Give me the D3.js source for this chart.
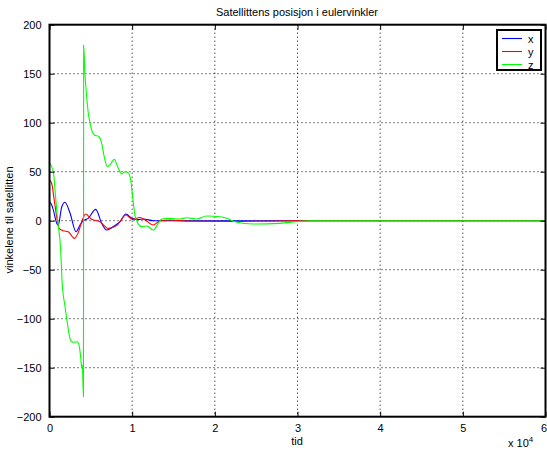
<!DOCTYPE html>
<html>
<head>
<meta charset="utf-8">
<script src="https://cdn.jsdelivr.net/npm/d3@7"></script>
<style>
  body { margin: 0; background: #fff; }
  svg { font-family: "Liberation Sans", Arial, sans-serif; }
  .grid line { stroke: #000; stroke-dasharray: 1,3; stroke-width: 1; }
</style>
</head>
<body>
<div id="chart"></div>
<script>
// time values in units of 1e4 s
var xTicks = [0, 1, 2, 3, 4, 5, 6];
var yTicks = [-200, -150, -100, -50, 0, 50, 100, 150, 200];

var tX = [0, 0.027, 0.046, 0.087, 0.106, 0.148, 0.1875, 0.248, 0.321, 0.369, 0.409, 0.469, 0.559, 0.631, 0.692, 0.772, 0.853, 0.925, 0.994, 1.074, 1.135, 1.256, 1.5, 2.5, 4, 6];
var valX = [19.4, 16, 11, -2.5, -4.4, 14, 18.8, 7.8, -11.2, -4.4, 0, 2.4, 11.6, -2.7, -9.5, -6, -1, 6.8, 2.4, 1.2, 1.7, 0, 0, 0, 0, 0];

var tY = [0, 0.027, 0.054, 0.087, 0.115, 0.167, 0.227, 0.300, 0.348, 0.390, 0.438, 0.510, 0.611, 0.711, 0.813, 0.925, 1.002, 1.095, 1.155, 1.256, 1.337, 1.458, 1.7, 2.2, 2.8, 3.2, 6];
var valY = [41.5, 38, 23, 4, -7.8, -10.2, -11.2, -18, -12.2, -1, 6.8, 1.4, -1, -7.8, -5, 5.8, 1.4, 3.2, 0.7, -4.4, 0, 0.7, -0.5, -0.8, -0.3, 0, 0];

var tZ = [0, 0.046, 0.07, 0.099, 0.135, 0.146, 0.151, 0.1875, 0.208, 0.248, 0.268, 0.296, 0.336, 0.357, 0.377, 0.390, 0.397, 0.411,
          0.413, 0.429, 0.450, 0.469, 0.490, 0.510, 0.542, 0.599, 0.631, 0.665, 0.700, 0.740, 0.784, 0.830, 0.873, 0.913, 0.953, 0.985, 1.014, 1.035, 1.055, 1.08, 1.115, 1.176, 1.256, 1.316, 1.357, 1.458, 1.579, 1.660, 1.781, 1.902, 2.062, 2.143, 2.244, 2.465, 2.787, 2.990, 3.15, 6];
var valZ = [59, 50, 28, 0, -30, -50, -61, -87.5, -100, -120, -123.5, -124, -123.5, -127, -139, -150.6, -147, -179.6,
            179, 150, 126.5, 110, 100, 92.5, 87.5, 85.7, 79, 64, 55, 58, 62.6, 54, 47.6, 50, 49, 40, 18, 5, 0, -4, -6, -5.4, -9.5, -2.7, 1.7, 2.4, 1.7, 3, 1.7, 4.8, 4, 2.4, -1, -3.4, -2.7, -1, 0, 0];

var series = [
  { name: "x", color: "#0000ff", t: tX, v: valX },
  { name: "y", color: "#ff0000", t: tY, v: valY },
  { name: "z", color: "#00ff00", t: tZ, v: valZ }
];

var W = 547, H = 451;
var margin = { left: 49.5, right: 1.5, top: 24.7, bottom: 34.3 };
var width = W - margin.left - margin.right;
var height = H - margin.top - margin.bottom;

var svg = d3.select("#chart").append("svg")
  .attr("width", W).attr("height", H);
var g = svg.append("g")
  .attr("transform", "translate(" + margin.left + "," + margin.top + ")");

var x = d3.scaleLinear().domain([0, 6]).range([0, width]);
var y = d3.scaleLinear().domain([-200, 200]).range([height, 0]);

// grid
var grid = g.append("g").attr("class", "grid");
grid.selectAll(".gx").data(xTicks.slice(1, -1)).enter().append("line")
  .attr("x1", function(d) { return x(d); }).attr("x2", function(d) { return x(d); })
  .attr("y1", 0).attr("y2", height);
grid.selectAll(".gy").data(yTicks.slice(1, -1)).enter().append("line")
  .attr("y1", function(d) { return y(d); }).attr("y2", function(d) { return y(d); })
  .attr("x1", 0).attr("x2", width);

// lines
var line = d3.line().curve(d3.curveMonotoneX);
series.forEach(function(s) {
  var pts = s.t.map(function(t, i) { return [x(t), y(s.v[i])]; });
  g.append("path")
    .attr("d", line(pts))
    .attr("fill", "none")
    .attr("stroke", s.color)
    .attr("stroke-width", 1.1);
});

// axes
var fmt = d3.format("d");
var xAxis = d3.axisBottom(x).tickValues(xTicks).tickSize(-5).tickPadding(8).tickFormat(fmt);
var xAxisTop = d3.axisTop(x).tickValues(xTicks).tickSize(-5).tickFormat("");
var yAxis = d3.axisLeft(y).tickValues(yTicks).tickSize(-5).tickPadding(8).tickFormat(fmt);
var yAxisRight = d3.axisRight(y).tickValues(yTicks).tickSize(-5).tickFormat("");

function style(sel) {
  sel.select(".domain").remove();
  sel.selectAll(".tick line").attr("stroke", "#000");
  sel.selectAll("text").attr("fill", "#000").style("font-size", "11px");
}
var gx = g.append("g").attr("transform", "translate(0," + height + ")").call(xAxis).call(style);
gx.selectAll(".tick text").filter(function(d) { return d === 6; }).attr("dx", -2);
g.append("g").call(xAxisTop).call(style);
g.append("g").call(yAxis).call(style);
g.append("g").attr("transform", "translate(" + width + ",0)").call(yAxisRight).call(style);

g.append("rect")
  .attr("width", width).attr("height", height)
  .attr("fill", "none").attr("stroke", "#000").attr("stroke-width", 2);

// labels
svg.append("text").attr("x", 297).attr("y", 16).attr("text-anchor", "middle")
  .style("font-size", "11px").text("Satellittens posisjon i eulervinkler");
svg.append("text").attr("x", 297).attr("y", 445).attr("text-anchor", "middle")
  .style("font-size", "11px").text("tid");
svg.append("text").attr("transform", "translate(13,220) rotate(-90)").attr("text-anchor", "middle")
  .style("font-size", "11px").text("vinkelene til satellitten");
var ex = svg.append("text").attr("x", 508).attr("y", 447).style("font-size", "11px");
ex.append("tspan").text("x 10");
ex.append("tspan").attr("dy", -5).style("font-size", "8px").text("4");

// legend
var lg = svg.append("g").attr("transform", "translate(497,30)");
lg.append("rect").attr("width", 44).attr("height", 40)
  .attr("fill", "#fff").attr("stroke", "#000").attr("stroke-width", 2);
series.forEach(function(s, i) {
  var yy = 8.5 + i * 13;
  lg.append("line").attr("x1", 5).attr("x2", 25).attr("y1", yy).attr("y2", yy)
    .attr("stroke", s.color).attr("stroke-width", 1.1);
  lg.append("text").attr("x", 31).attr("y", yy + 4).style("font-size", "11px").text(s.name);
});
</script>
</body>
</html>
